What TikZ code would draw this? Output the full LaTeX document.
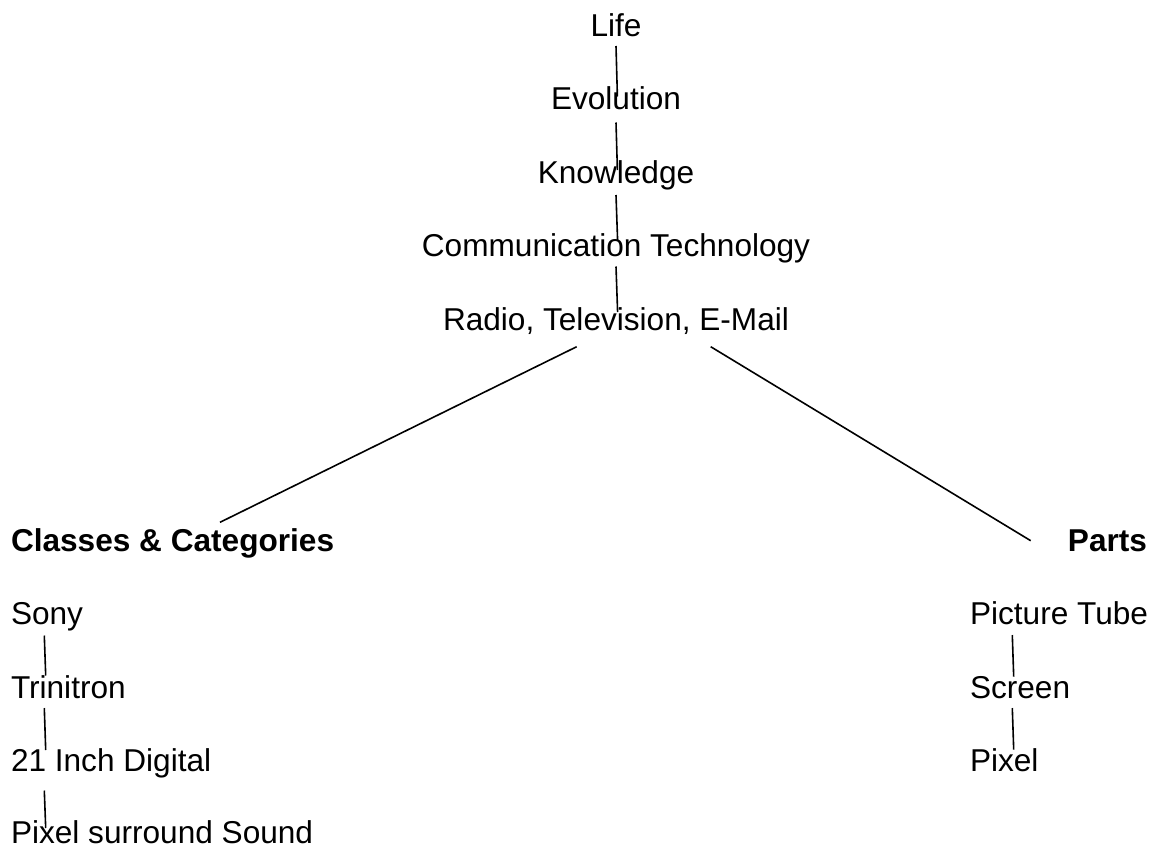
\documentclass[tikz,border=0pt]{standalone}
\usepackage{fontspec}
\setmainfont{Liberation Sans}
\usetikzlibrary{calc}
\begin{document}
\begin{tikzpicture}[x=1pt,y=-1pt,
  every node/.style={inner sep=0pt,outer sep=0pt,font=\fontsize{31.6}{38}\selectfont},
  topic/.style={anchor=base},
  leftitem/.style={anchor=base west},
  heading/.style={font=\fontsize{31.6}{38}\selectfont\bfseries},
  link/.style={draw=black,line width=1.6pt}]
\useasboundingbox[fill=white] (0,0) rectangle (1157,849);

% central chain
\node[topic] (life)  at (616,36)    {Life};
\node[topic] (evo)   at (616,109.5) {Evolution};
\node[topic] (know)  at (616,183)   {Knowledge};
\node[topic] (comm)  at (616,256.5) {Communication Technology};
\node[topic] (media) at (616,330)   {Radio, Television, E-Mail};

% left branch
\node[leftitem,heading] (classes) at (11,551) {Classes \& Categories};
\node[leftitem] (sony)  at (11,624.5) {Sony};
\node[leftitem] (trini) at (11,698)   {Trinitron};
\node[leftitem] (inch)  at (11,771.5) {21 Inch Digital};
\node[leftitem] (sound) at (11,843.5) {Pixel surround Sound};

% right branch
\node[anchor=base east,heading] (parts) at (1147,551) {Parts};
\node[leftitem] (tube)   at (970,624.5) {Picture Tube};
\node[leftitem] (screen) at (970,698)   {Screen};
\node[leftitem] (pixel)  at (970,771.5) {Pixel};

% connectors of the central chain
\draw[link] ($(life.base)+(0,10)$)  -- ($(evo.base)+(1.4,-13)$);
\draw[link] ($(evo.base)+(0,13)$)   -- ($(know.base)+(1.4,-13)$);
\draw[link] ($(know.base)+(0,12)$)  -- ($(comm.base)+(1.6,-16)$);
\draw[link] ($(comm.base)+(0,10)$)  -- ($(media.base)+(1.6,-18)$);

% branches
\draw[link] ($(media.base)+(-39.3,16.7)$) -- ($(classes.base west)+(209,-28.7)$);
\draw[link] ($(media.base)+(94.7,16.7)$)  -- ($(parts.base east)+(-116.3,-10.3)$);

% left column
\draw[link] ($(sony.base west)+(33.3,11)$)  -- ($(trini.base west)+(34.7,-22.5)$);
\draw[link] ($(trini.base west)+(33.3,10)$) -- ($(inch.base west)+(34.7,-21.5)$);
\draw[link] ($(inch.base west)+(33.3,19)$)  -- ($(sound.base west)+(34.7,-15.5)$);

% right column
\draw[link] ($(tube.base west)+(42.3,10.5)$)  -- ($(screen.base west)+(43.7,-21.3)$);
\draw[link] ($(screen.base west)+(42.3,10)$)  -- ($(pixel.base west)+(43.7,-22)$);
\end{tikzpicture}
\end{document}
